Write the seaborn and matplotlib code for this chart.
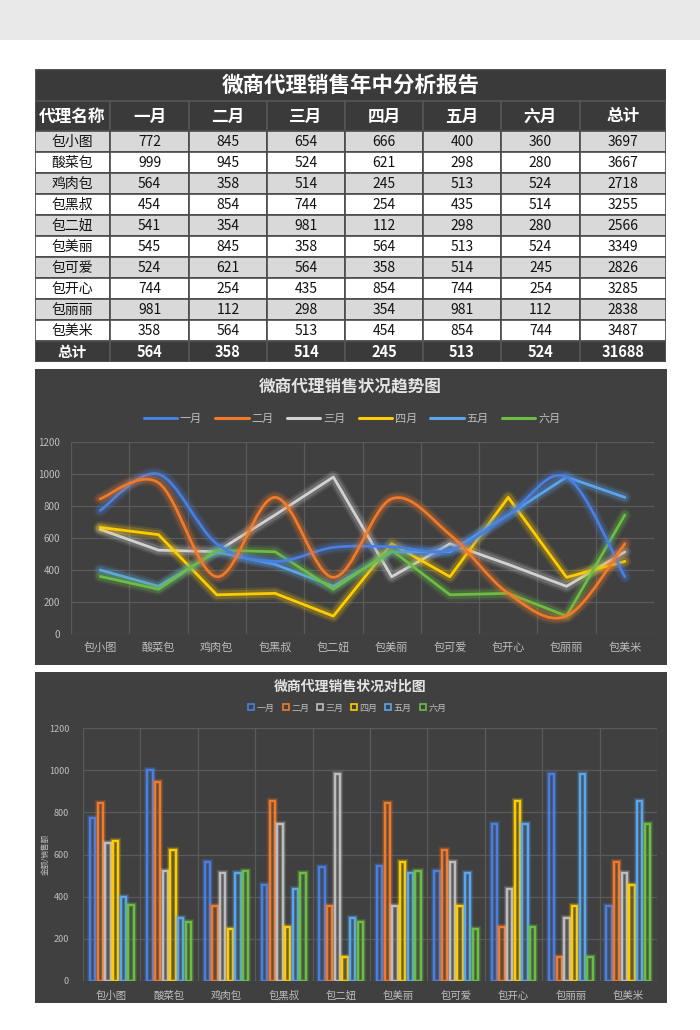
import numpy as np
import pandas as pd
import matplotlib
matplotlib.use("Agg")
import matplotlib.pyplot as plt
import matplotlib.patheffects as pe
from matplotlib.path import Path
from matplotlib.patches import PathPatch, Rectangle
from matplotlib.lines import Line2D
import seaborn as sns

# ---------------- data ----------------
agents = ["包小图", "酸菜包", "鸡肉包", "包黑叔", "包二妞", "包美丽", "包可爱", "包开心", "包丽丽", "包美米"]
months = ["一月", "二月", "三月", "四月", "五月", "六月"]
jan = [772, 999, 564, 454, 541, 545, 524, 744, 981, 358]
feb = [845, 945, 358, 854, 354, 845, 621, 254, 112, 564]
mar = [654, 524, 514, 744, 981, 358, 564, 435, 298, 513]
apr = [666, 621, 245, 254, 112, 564, 358, 854, 354, 454]
may = [400, 298, 513, 435, 298, 513, 514, 744, 981, 854]
jun = [360, 280, 524, 514, 280, 524, 245, 254, 112, 744]
row_totals = [3697, 3667, 2718, 3255, 2566, 3349, 2826, 3285, 2838, 3487]
total_row = ["564", "358", "514", "245", "513", "524", "31688"]
table_title = "微商代理销售年中分析报告"
line_title = "微商代理销售状况趋势图"
bar_title = "微商代理销售状况对比图"
bar_ylabel = "金额/销售额"
yticks_vals = [0, 200, 400, 600, 800, 1000, 1200]

series = [jan, feb, mar, apr, may, jun]
smooth_months = ["一月", "二月"]

line_colors = {"一月": "#4a7fe0", "二月": "#f07a2a", "三月": "#d2d2d2",
               "四月": "#ffcc00", "五月": "#5aa6ec", "六月": "#6cbd44"}
bar_colors = {"一月": "#4a7fe0", "二月": "#f07a2a", "三月": "#bdbdbd",
              "四月": "#ffcc00", "五月": "#5aa6ec", "六月": "#6cbd44"}

df = pd.DataFrame([(a, m, s[i], i) for m, s in zip(months, series) for i, a in enumerate(agents)],
                  columns=["agent", "month", "value", "pos"])

# ---------------- style ----------------
sns.set_style("dark")
plt.rcParams["font.family"] = ["Noto Sans CJK SC", "DejaVu Sans"]
plt.rcParams["axes.unicode_minus"] = False

W, H = 700, 1030
fig = plt.figure(figsize=(7, 10.3), dpi=100)
fig.patch.set_facecolor("white")

def fx(x):
    return x / W

def fy(y):
    return 1 - y / H

PANEL = "#404040"
DARK = "#3a3a3a"
GRID = "#5a5a5a"
TICK = "#bfbfbf"

def add_bg(x0, y0, x1, y1, color):
    r = Rectangle((fx(x0), fy(y1)), (x1 - x0) / W, (y1 - y0) / H, transform=fig.transFigure,
                  facecolor=color, edgecolor="none", zorder=-10)
    fig.patches.append(r)

# top grey band and chart panels
add_bg(0, 0, 700, 40, "#e9e9e9")
add_bg(35, 369, 667, 665, PANEL)
add_bg(35, 672, 667, 1003, PANEL)

# ---------------- table ----------------
tax = fig.add_axes([fx(35), fy(362), fx(631), 293 / H])
tax.set_xlim(0, 631)
tax.set_ylim(293, 0)
tax.axis("off")
col_edges = [0, 75, 154, 232, 310, 388, 466, 545, 631]
ncols = len(col_edges) - 1

tax.add_patch(Rectangle((0, 0), 631, 32, facecolor=DARK, edgecolor="#555555", lw=1))
tax.text(315.5, 16, table_title, ha="center", va="center", color="white",
         fontsize=15.5, fontweight="bold")

def draw_row(y0, h, texts, face, color, size, weight, edge):
    for c in range(ncols):
        x0, x1 = col_edges[c], col_edges[c + 1]
        tax.add_patch(Rectangle((x0, y0), x1 - x0, h, facecolor=face, edgecolor=edge, lw=1.2))
        tax.text((x0 + x1) / 2, y0 + h / 2 + 0.5, texts[c], ha="center", va="center",
                 color=color, fontsize=size, fontweight=weight)

draw_row(32, 30, ["代理名称"] + months + ["总计"], DARK, "white", 12, "bold", "#555555")
for r, a in enumerate(agents):
    vals = [str(s[r]) for s in series] + [str(row_totals[r])]
    face = "#d9d9d9" if r % 2 == 0 else "white"
    draw_row(62 + 21 * r, 21, [a] + vals, face, "#111111", 10, "normal", "#4a4a4a")
draw_row(272, 21, ["总计"] + total_row, DARK, "white", 10.5, "bold", "#555555")

# ---------------- helper ----------------
def style_axes(ax):
    ax.set_facecolor("none")
    for s in ax.spines.values():
        s.set_visible(False)
    ax.set_ylim(0, 1200)
    ax.set_yticks(yticks_vals)
    ax.set_xlim(-0.5, len(agents) - 0.5)
    ax.set_xticks(range(len(agents)))
    ax.set_xticklabels(agents)
    ax.set_xticks(np.arange(-0.5, len(agents), 1), minor=True)
    ax.grid(False)
    ax.grid(True, which="major", axis="y", color=GRID, lw=0.9)
    ax.grid(True, which="minor", axis="x", color=GRID, lw=0.9)
    ax.tick_params(which="both", length=0)
    ax.set_xlabel("")
    ax.set_axisbelow(True)

def glow(c, w):
    return [pe.Stroke(linewidth=w + 7, foreground=c, alpha=0.12),
            pe.Stroke(linewidth=w + 4, foreground=c, alpha=0.22),
            pe.Normal()]

# ---------------- line chart ----------------
lax = fig.add_axes([fx(71), fy(634), fx(583), 192 / H])
straight = df[~df["month"].isin(smooth_months)]
sns.lineplot(data=straight, x="pos", y="value", hue="month", palette=line_colors,
             hue_order=[m for m in months if m not in smooth_months], lw=2.0,
             legend=False, ax=lax, zorder=3)
for ln in lax.get_lines():
    ln.set_path_effects(glow(ln.get_color(), 2.0))
    ln.set_solid_capstyle("round")

def bezier_path(xs, ys):
    verts = [(xs[0], ys[0])]
    codes = [Path.MOVETO]
    n = len(xs)
    for i in range(n - 1):
        p0 = i - 1 if i > 0 else i
        p3 = i + 2 if i + 2 < n else i + 1
        c1 = (xs[i] + (xs[i + 1] - xs[p0]) / 6, ys[i] + (ys[i + 1] - ys[p0]) / 6)
        c2 = (xs[i + 1] - (xs[p3] - xs[i]) / 6, ys[i + 1] - (ys[p3] - ys[i]) / 6)
        verts += [c1, c2, (xs[i + 1], ys[i + 1])]
        codes += [Path.CURVE4] * 3
    return Path(verts, codes)

for m in smooth_months:
    sub = df[df["month"] == m]
    p = bezier_path(sub["pos"].to_numpy(float), sub["value"].to_numpy(float))
    patch = PathPatch(p, facecolor="none", edgecolor=line_colors[m], lw=2.0, zorder=3,
                      capstyle="round")
    patch.set_path_effects(glow(line_colors[m], 2.0))
    lax.add_patch(patch)

style_axes(lax)
lax.set_ylabel("")
lax.tick_params(axis="y", labelsize=7, colors=TICK, pad=8)
lax.tick_params(axis="x", labelsize=8, colors=TICK, pad=6)
fig.text(0.5, fy(388), line_title, ha="center", va="center", color="#e3e3e3",
         fontsize=12, fontweight="bold")
handles = [Line2D([], [], color=line_colors[m], lw=2.2) for m in months]
fig.legend(handles, months, loc="center", bbox_to_anchor=(fx(352), fy(419)), ncol=6,
           frameon=False, fontsize=8, labelcolor=TICK, handlelength=3.0,
           handletextpad=0.25, columnspacing=1.2)

# ---------------- bar chart ----------------
bax = fig.add_axes([fx(83), fy(981), fx(574), 253 / H])
sns.barplot(data=df, x="agent", y="value", hue="month", order=agents, hue_order=months,
            palette=bar_colors, fill=False, linewidth=1.5, width=0.8, gap=0.3,
            legend=False, ax=bax, zorder=3)
for patch in bax.patches:
    c = patch.get_edgecolor()
    patch.set_path_effects([pe.Stroke(linewidth=4.5, foreground=c, alpha=0.18),
                            pe.Stroke(linewidth=3, foreground=c, alpha=0.3),
                            pe.Normal()])
style_axes(bax)
bax.tick_params(axis="y", labelsize=6.5, colors=TICK, pad=10)
bax.tick_params(axis="x", labelsize=7.5, colors=TICK, pad=7)
bax.set_ylabel(bar_ylabel, fontsize=5.5, color=TICK)
bax.yaxis.set_label_coords(-33 / 574, 0.5)
fig.text(0.5, fy(687), bar_title, ha="center", va="center", color="#e3e3e3",
         fontsize=10, fontweight="bold")
bhandles = [Line2D([], [], marker="s", ls="none", markersize=5, markerfacecolor="none",
                   markeredgecolor=bar_colors[m], markeredgewidth=1.2) for m in months]
fig.legend(bhandles, months, loc="center", bbox_to_anchor=(fx(347), fy(708)), ncol=6,
           frameon=False, fontsize=6.5, labelcolor=TICK, handlelength=0.8,
           handletextpad=0.2, columnspacing=0.8)

fig.savefig("out.png", dpi=100, facecolor="white")
